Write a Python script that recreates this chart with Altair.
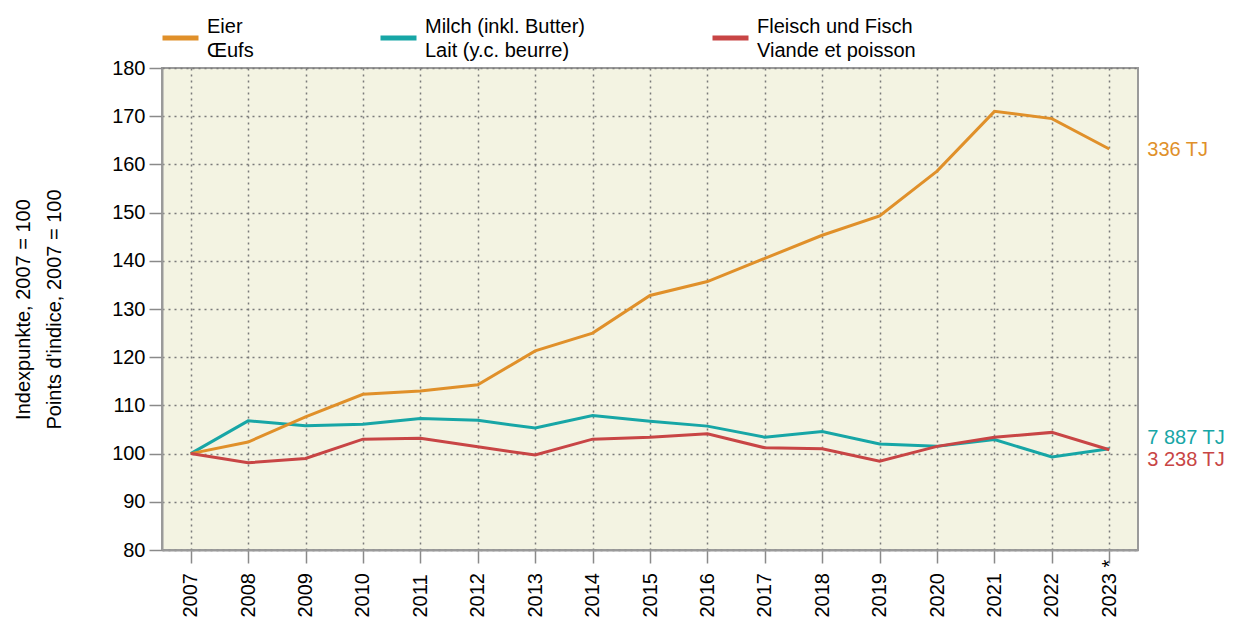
import altair as alt
import pandas as pd

years = ["2007", "2008", "2009", "2010", "2011", "2012", "2013", "2014", "2015",
         "2016", "2017", "2018", "2019", "2020", "2021", "2022", "2023 *"]

eier = [100, 102.4, 107.6, 112.3, 113.0, 114.3, 121.3, 125.0, 132.8,
        135.7, 140.5, 145.3, 149.3, 158.6, 171.0, 169.5, 163.2]
milch = [100, 106.8, 105.8, 106.1, 107.3, 106.9, 105.3, 107.9, 106.7,
         105.7, 103.4, 104.6, 102.0, 101.5, 102.9, 99.3, 101.0]
fleisch = [100, 98.1, 99.0, 103.0, 103.2, 101.4, 99.7, 103.0, 103.4,
           104.1, 101.2, 101.0, 98.4, 101.5, 103.4, 104.4, 100.8]

series_names = ["Eier|Œufs", "Milch (inkl. Butter)|Lait (y.c. beurre)", "Fleisch und Fisch|Viande et poisson"]
series_colors = ["#E0902A", "#17A6A6", "#C84545"]
end_labels = ["336 TJ", "7 887 TJ", "3 238 TJ"]
end_label_dy = [1, -11, 10]

y_title = ["Indexpunkte, 2007 = 100", "Points d'indice, 2007 = 100"]
y_ticks = list(range(80, 181, 10))

FONT = "Liberation Sans"

rows = []
for name, vals in zip(series_names, [eier, milch, fleisch]):
    for yr, v in zip(years, vals):
        rows.append({"year": yr, "value": v, "series": name})
df = pd.DataFrame(rows)

x_enc = alt.X("year:O", sort=years,
              scale=alt.Scale(type="point", padding=0.5),
              axis=alt.Axis(title=None, labelAngle=-90, labelFontSize=20,
                            labelPadding=54, tickSize=13, labelColor="#000000",
                            labelBaseline="middle", labelAlign="left", grid=True))
y_enc = alt.Y("value:Q", scale=alt.Scale(domain=[80, 180], nice=False, zero=False),
              axis=alt.Axis(values=y_ticks, title=y_title, titleFontSize=20,
                            titleFontWeight="normal", titleLineHeight=31,
                            titleColor="#000000", titlePadding=47,
                            labelFontSize=20, labelColor="#000000",
                            labelPadding=4, tickSize=13, grid=True))
color_scale = alt.Scale(domain=series_names, range=series_colors)
legend = alt.Legend(title=None, orient="none", legendX=-2, legendY=-52,
                    direction="horizontal", symbolType="M-1,0.08H1", padding=0,
                    symbolSize=1296, symbolStrokeWidth=5,
                    labelFontSize=20, labelOffset=6, labelLimit=500,
                    columnPadding=116, gridAlign="none", labelBaseline="bottom",
                    labelExpr="split(datum.label, '|')", labelColor="#000000")

draw_order = [1, 0, 2]
layers = []
for i in draw_order:
    name = series_names[i]
    layers.append(
        alt.Chart(df).transform_filter(alt.datum.series == name)
        .mark_line(strokeWidth=3)
        .encode(x=x_enc, y=y_enc,
                color=alt.Color("series:N", scale=color_scale, legend=legend))
    )

for i, name in enumerate(series_names):
    layers.append(
        alt.Chart(df).transform_filter(
            (alt.datum.series == name) & (alt.datum.year == years[-1]))
        .mark_text(align="left", baseline="middle", dx=38, dy=end_label_dy[i],
                   fontSize=20, font=FONT, color=series_colors[i])
        .encode(x=x_enc, y=y_enc, text=alt.value(end_labels[i]))
    )

chart = (
    alt.layer(*layers)
    .properties(width=976, height=482,
                padding={"left": 154, "top": 60, "right": 88, "bottom": 67},
                autosize=alt.AutoSizeParams(type="none"))
    .configure(font=FONT, style={"guide-label": {"lineHeight": 24}})
    .configure_view(fill="#F3F3E2", stroke="#9A9A9A", strokeWidth=2)
    .configure_axis(domainColor="#9A9A9A", domainWidth=2, tickColor="#8A8A8A",
                    tickWidth=1.5, gridColor="#7A7A7A", gridDash=[2, 4],
                    gridWidth=1.5, labelFont=FONT, titleFont=FONT)
    .configure_legend(labelFont=FONT)
)

chart.save("out.html", embed_options={"renderer": "svg", "actions": False})
